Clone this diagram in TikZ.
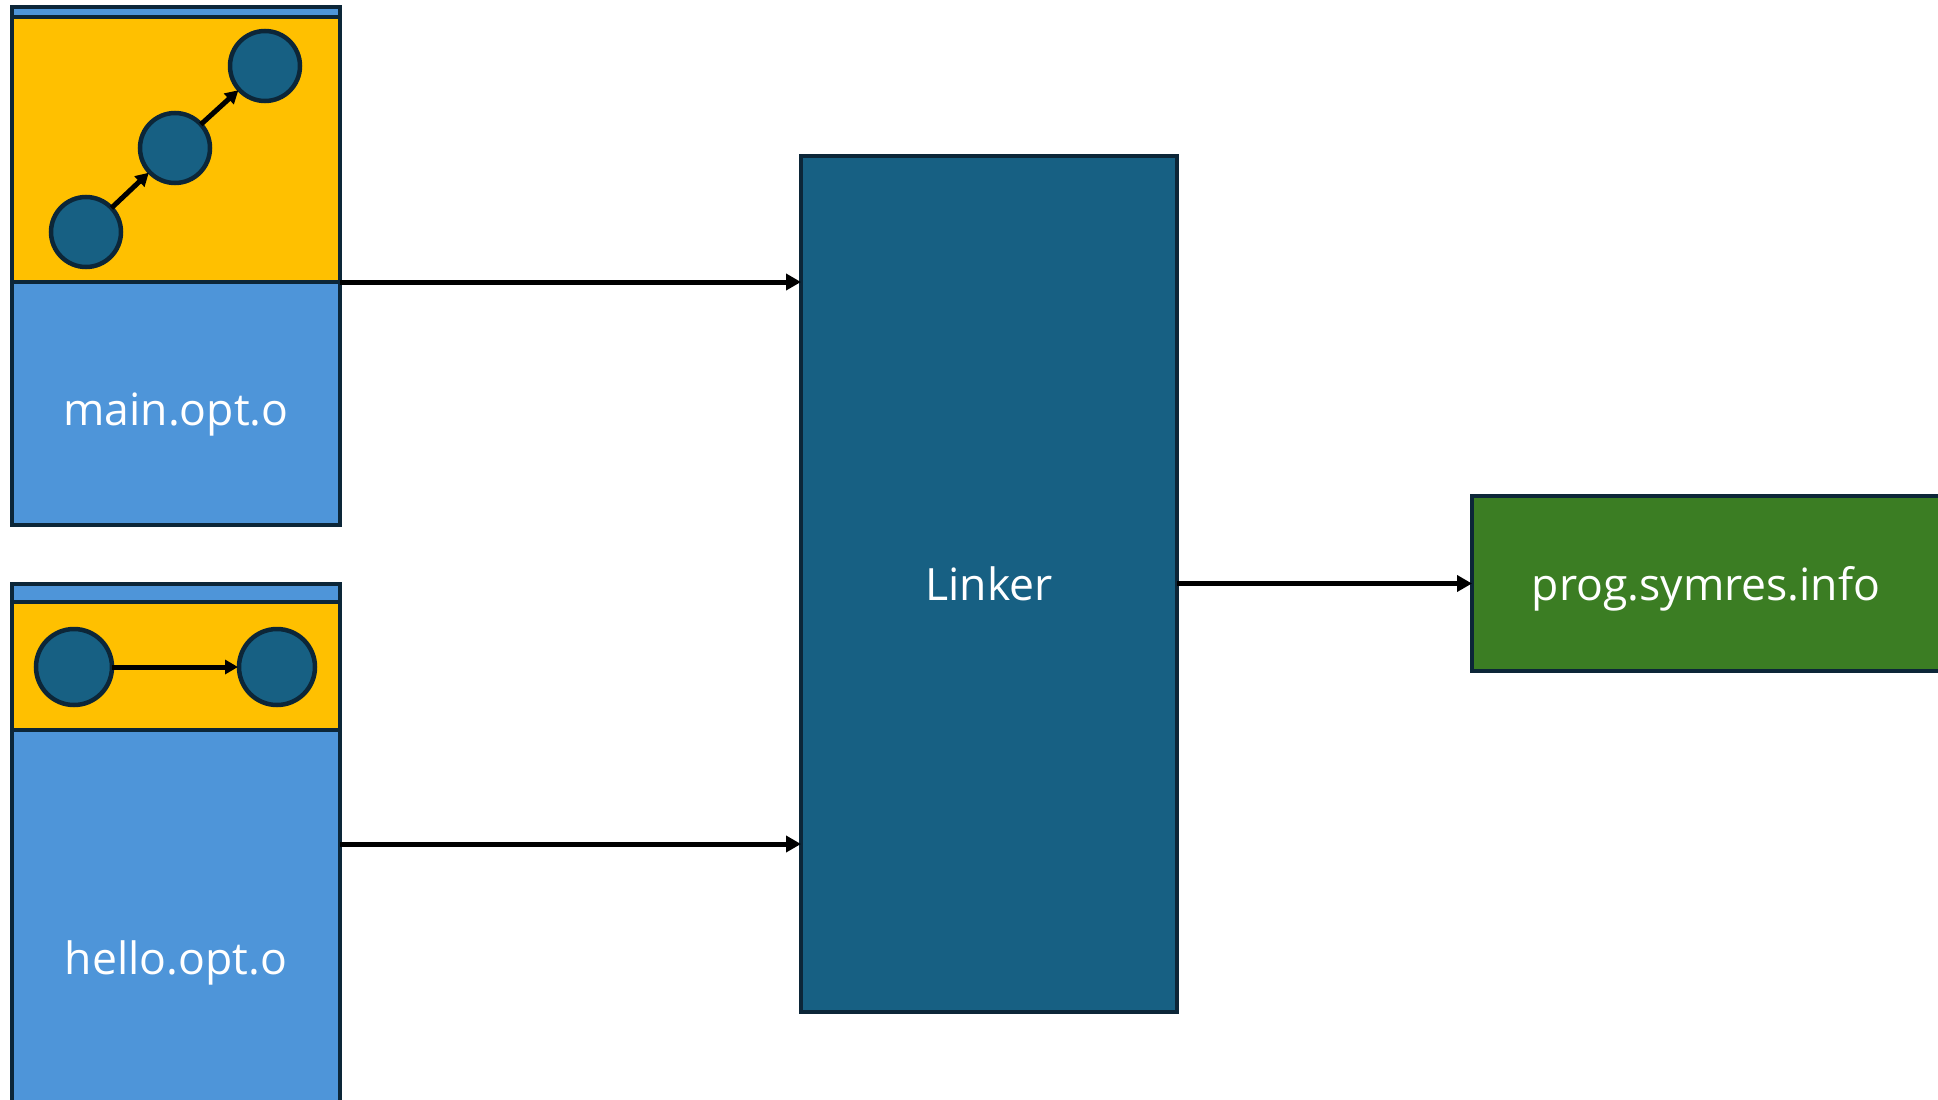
\documentclass[tikz,border=0pt]{standalone}
\usepackage{fontspec}
\setmainfont{Open Sans}
\usetikzlibrary{arrows.meta}
\definecolor{objblue}{HTML}{4E95D9}
\definecolor{cfgyellow}{HTML}{FFC000}
\definecolor{deepteal}{HTML}{176083}
\definecolor{outgreen}{HTML}{3B7D23}
\definecolor{edgenavy}{HTML}{0C2638}
\tikzset{
  panel/.style={draw=edgenavy, line width=4pt, inner sep=0pt, outer sep=0pt, rectangle},
  objbox/.style={panel, fill=objblue},
  cfgband/.style={panel, fill=cfgyellow},
  block/.style={circle, draw=edgenavy, line width=4.5pt, fill=deepteal, inner sep=0pt, outer sep=0pt},
  lbl/.style={text=white, font=\fontsize{44.5}{50}\selectfont, inner sep=0pt},
  flow/.style={line width=5pt, -{Triangle[length=15pt, width=16pt]}},
  cfgedge/.style={line width=5pt, -{Triangle[length=13pt, width=14pt]}, shorten >=1pt}
}
\begin{document}
\begin{tikzpicture}[x=1pt, y=-1pt]
  \useasboundingbox (0,0) rectangle (1938,1100);
  \begin{scope}
    \clip (0,0) rectangle (1938,1100);

    % main.opt.o object file with its control-flow band
    \node[objbox, minimum width=328pt, minimum height=518pt] (mainobj) at (176,266) {};
    \node[cfgband, minimum width=328pt, minimum height=265pt] (maincfg) at (176,149.5) {};
    \node[lbl] (mainlbl) at (176,415) {main.opt.o};
    \node[block, minimum size=70pt] (ma) at (86,232) {};
    \node[block, minimum size=70pt] (mb) at (175,148) {};
    \node[block, minimum size=70pt] (mc) at (265,66) {};
    \draw[cfgedge] (ma) -- (mb);
    \draw[cfgedge] (mb) -- (mc);

    % hello.opt.o object file with its control-flow band
    \node[objbox, minimum width=328pt, minimum height=560pt] (helloobj) at (176,864) {};
    \node[cfgband, minimum width=328pt, minimum height=128pt] (hellocfg) at (176,666) {};
    \node[lbl] (hellolbl) at (176,963) {hello.opt.o};
    \node[block, minimum size=76pt] (ha) at (74,667) {};
    \node[block, minimum size=76pt] (hb) at (277,667) {};
    \draw[cfgedge] (ha) -- (hb);

    % linker and its output
    \node[panel, fill=deepteal, minimum width=376pt, minimum height=856pt] (linker) at (989,584) {};
    \node[lbl] (linkerlbl) at (989,584) {Linker};
    \node[panel, fill=outgreen, minimum width=468pt, minimum height=175pt] (symres) at (1706,583.5) {};
    \node[lbl] (symreslbl) at (1706,589) {prog.symres.info};

    % inputs and output of the link step
    \coordinate (mainout) at (maincfg.south east);
    \coordinate (helloout) at (340,844);
    \draw[flow] (mainout) -- (mainout -| linker.west);
    \draw[flow] (helloout) -- (helloout -| linker.west);
    \draw[flow] (linker.east |- symres.west) -- (symres.west);
  \end{scope}
\end{tikzpicture}
\end{document}
